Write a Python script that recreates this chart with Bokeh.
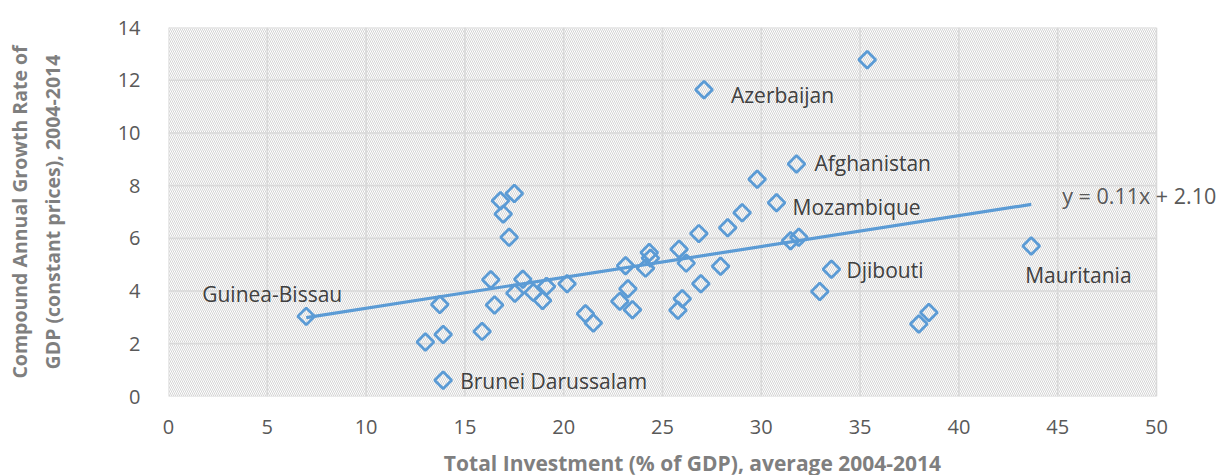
import numpy as np
from bokeh.plotting import figure
from bokeh.models import ColumnDataSource, Label, FixedTicker, Range1d
from bokeh.embed import file_html
from bokeh.resources import INLINE

# ---- data ----
invest = [6.97, 13.0, 13.73, 13.9, 13.9, 15.87, 16.31, 16.5, 16.8, 16.94,
          17.24, 17.5, 17.53, 17.93, 18.46, 18.93, 19.13, 20.17, 21.1, 21.5,
          22.84, 23.13, 23.25, 23.48, 24.14, 24.33, 24.39, 25.78, 25.84, 26.0,
          26.2, 26.84, 26.94, 27.1, 27.94, 28.3, 29.03, 29.79, 30.77, 31.48,
          31.9, 31.78, 32.96, 33.55, 35.36, 37.97, 38.48, 43.66]
growth = [3.04, 2.07, 3.49, 2.35, 0.62, 2.47, 4.43, 3.47, 7.43, 6.92,
          6.04, 7.7, 3.92, 4.45, 3.95, 3.64, 4.17, 4.28, 3.14, 2.79,
          3.61, 4.96, 4.09, 3.29, 4.87, 5.46, 5.25, 3.27, 5.59, 3.71,
          5.06, 6.18, 4.28, 11.64, 4.94, 6.4, 6.97, 8.24, 7.35, 5.91,
          6.04, 8.82, 3.98, 4.83, 12.78, 2.75, 3.19, 5.71]
names = [""] * len(invest)
names[0] = "Guinea-Bissau"
names[4] = "Brunei Darussalam"
names[33] = "Azerbaijan"
names[38] = "Mozambique"
names[41] = "Afghanistan"
names[43] = "Djibouti"
names[47] = "Mauritania"

x_ticks = [0, 5, 10, 15, 20, 25, 30, 35, 40, 45, 50]
y_ticks = [0, 2, 4, 6, 8, 10, 12, 14]

trend_slope = 0.117
trend_intercept = 2.18
equation_text = "y = 0.11x + 2.10"

x_title = "Total Investment (% of GDP), average 2004-2014"
y_title = "Compound Annual Growth Rate of\nGDP (constant prices), 2004-2014"

# ---- styling (label offsets in screen pixels) ----
label_offsets = {
    "Guinea-Bissau": (-104, 22),
    "Brunei Darussalam": (17, -1),
    "Azerbaijan": (27, -5),
    "Afghanistan": (18, 1),
    "Mozambique": (16, -4),
    "Djibouti": (15, -1),
    "Mauritania": (-6, -29),
}

BLUE = "#5b9bd5"
GRID = "#d9d9d9"
FONT = "Open Sans"

AREA_W = 988            # pixel width of the 0..50 plot area
FRAME_W = 1048          # frame extends right so the equation label is not clipped
x_max_view = x_ticks[-1] * FRAME_W / AREA_W

p = figure(frame_width=FRAME_W, frame_height=369, output_backend="svg",
           toolbar_location=None,
           x_range=Range1d(x_ticks[0], x_max_view),
           y_range=Range1d(y_ticks[0], y_ticks[-1]),
           min_border_left=168, min_border_top=27,
           min_border_right=0, min_border_bottom=78)

p.background_fill_color = "white"
p.border_fill_color = "white"
p.outline_line_color = None
p.xgrid.visible = False
p.ygrid.visible = False

# hatched plot area background
p.quad(left=[x_ticks[0]], right=[x_ticks[-1]], bottom=[y_ticks[0]], top=[y_ticks[-1]],
       fill_color="white", line_color=None,
       hatch_pattern="\\", hatch_color="#d4d4d4", hatch_scale=4, hatch_weight=1,
       level="image")

# grid lines limited to plot area
p.segment(x0=[x_ticks[0]] * len(y_ticks), x1=[x_ticks[-1]] * len(y_ticks),
          y0=y_ticks, y1=y_ticks, line_color=GRID, line_width=1.6, level="underlay")
p.segment(x0=x_ticks, x1=x_ticks, y0=[y_ticks[0]] * len(x_ticks),
          y1=[y_ticks[-1]] * len(x_ticks), line_color=GRID, line_width=1.6,
          level="underlay")

p.xaxis.ticker = FixedTicker(ticks=x_ticks)
p.yaxis.ticker = FixedTicker(ticks=y_ticks)

for ax in (p.xaxis[0], p.yaxis[0]):
    ax.axis_line_color = None
    ax.major_tick_line_color = None
    ax.minor_tick_line_color = None
    ax.major_label_text_font = FONT
    ax.major_label_text_font_size = "20px"
    ax.major_label_text_color = "#595959"
    ax.axis_label_text_font = FONT
    ax.axis_label_text_font_style = "bold"
    ax.axis_label_text_color = "#7f7f7f"

p.xaxis.axis_label = x_title
p.yaxis.axis_label = y_title
p.xaxis.axis_label_text_font_size = "21px"
p.yaxis.axis_label_text_font_size = "19.5px"
p.xaxis.major_label_standoff = 17
p.xaxis.axis_label_standoff = 12
p.yaxis.major_label_standoff = 22
p.yaxis.axis_label_standoff = 49

# trend line
tx = np.array([min(invest), max(invest)])
ty = trend_slope * tx + trend_intercept
p.line(tx, ty, line_color=BLUE, line_width=3.2)

# points
src = ColumnDataSource(dict(x=invest, y=growth, name=names))
p.scatter("x", "y", source=src, marker="square", angle=np.pi / 4, size=12,
          fill_color=None, line_color=BLUE, line_width=2.8)

# data labels
for xi, yi, nm in zip(invest, growth, names):
    if nm:
        dx, dy = label_offsets[nm]
        p.add_layout(Label(x=xi, y=yi, text=nm, x_offset=dx, y_offset=dy,
                           text_font=FONT, text_font_size="21px",
                           text_color="#404040", text_baseline="middle",
                           text_align="left"))

# equation label near end of trend line
p.add_layout(Label(x=tx[-1], y=ty[-1], text=equation_text, x_offset=31, y_offset=9,
                   text_font=FONT, text_font_size="21.5px", text_color="#595959",
                   text_baseline="middle", text_align="left"))

open("out.html", "w").write(file_html(p, INLINE))
